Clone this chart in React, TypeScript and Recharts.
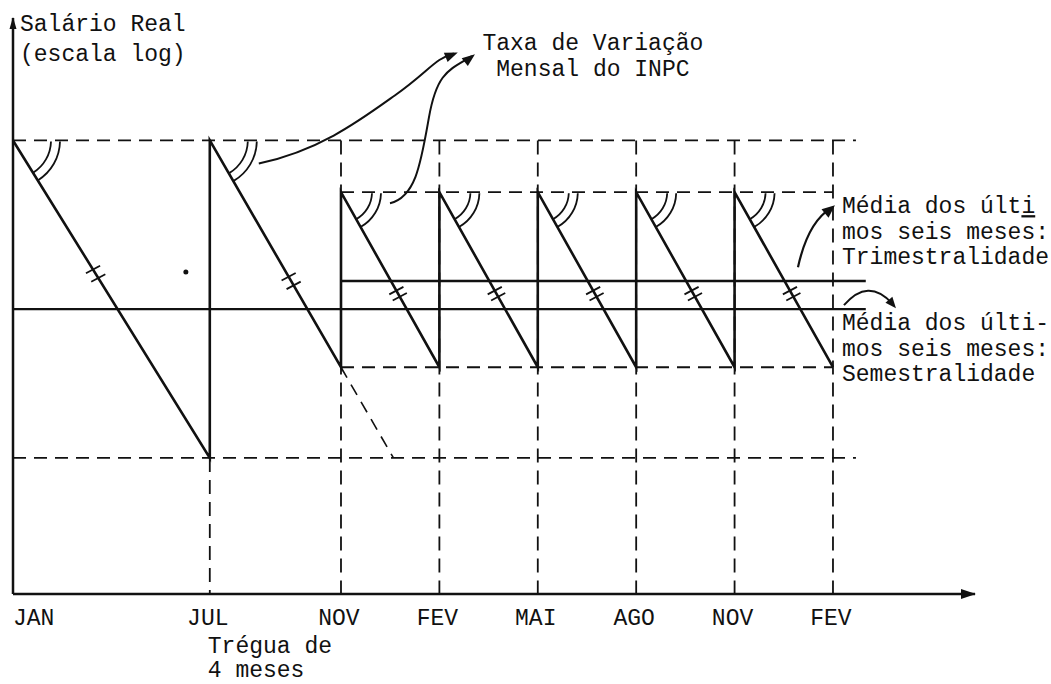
import React from "react";
import {
  ComposedChart,
  Line,
  XAxis,
  YAxis,
  ReferenceLine,
  ReferenceDot,
} from "recharts";

// months counted from the first JAN, wage on an arbitrary log scale
const tickMonths = [0, 6, 10, 13, 16, 19, 22, 25];
const tickLabels = ["JAN", "JUL", "NOV", "FEV", "MAI", "AGO", "NOV", "FEV"];

const sawMonths = [0, 6, 6, 10, 10, 13, 13, 16, 16, 19, 19, 22, 22, 25];
const sawWage = [100, 30, 100, 50, 88.6, 50, 88.6, 50, 88.6, 50, 88.6, 50, 88.6, 50];

// dashed guide levels (peak / trough heights)
const guideLevel = [100, 30, 88.6, 50];
const guideFrom = [0, 0, 10, 10];
const guideTo = [25.7, 25.7, 25, 25];

// solid averages: semestralidade, trimestralidade
const meanLevel = [62.8, 69];
const meanFrom = [0, 10];
const meanTo = [26, 26];

// dashed drop lines to the axis
const dropMonths = [6, 10, 13, 16, 19, 22, 25];
const dropTop = [30, 100, 100, 100, 100, 100, 100];

// where the "=" marks sit along each falling segment
const hashFrac = [0.42, 0.62, 0.58, 0.58, 0.58, 0.58, 0.58];

const W = 1051;
const H = 684;
const MARGIN = { top: 18, right: 76, bottom: 0, left: 13 };
const X_AXIS_H = 90;
const X_MAX = 29.33;
const Y_MAX = 127;
const PX_M = (W - MARGIN.left - MARGIN.right) / X_MAX;
const PX_V = (H - MARGIN.top - MARGIN.bottom - X_AXIS_H) / Y_MAX;

const INK = "#111";
const FONT = "'Liberation Mono', 'DejaVu Sans Mono', monospace";
const FS = 23;

const rows = sawMonths.map((m, i) => ({ m, w: sawWage[i] }));

const falling = sawMonths
  .slice(0, -1)
  .map((m, i) => ({ m0: m, w0: sawWage[i], m1: sawMonths[i + 1], w1: sawWage[i + 1] }))
  .filter((s) => s.w1 < s.w0);

const segAngle = (s: any) => Math.atan2((s.w0 - s.w1) * PX_V, (s.m1 - s.m0) * PX_M);

function arrowHead(x: number, y: number, deg: number, len = 13, half = 5) {
  const a = (deg * Math.PI) / 180;
  const ux = Math.cos(a), uy = Math.sin(a);
  const bx = x - ux * len, by = y - uy * len;
  return (
    <polygon
      points={`${x},${y} ${bx - uy * half},${by + ux * half} ${bx + uy * half},${by - ux * half}`}
      fill={INK}
    />
  );
}

const at = (draw: (cx: number, cy: number) => React.ReactNode) => (p: any) => (
  <g>{draw(p.cx, p.cy)}</g>
);

function textLines(x: number, y: number, lines: React.ReactNode[], lh = 25.5) {
  return (
    <text x={x} y={y} fontFamily={FONT} fontSize={FS} fill={INK}>
      {lines.map((l, i) => (
        <tspan key={i} x={x} dy={i === 0 ? 0 : lh}>
          {l}
        </tspan>
      ))}
    </text>
  );
}

const Tick = (props: any) => {
  const { x, y, payload } = props;
  const i = tickMonths.indexOf(payload.value);
  const first = i === 0;
  return (
    <g>
      <text
        x={first ? x : x - 2}
        y={y + 29}
        textAnchor={first ? "start" : "middle"}
        fontFamily={FONT}
        fontSize={FS}
        fill={INK}
      >
        {tickLabels[i]}
      </text>
      {tickLabels[i] === "JUL" && textLines(x - 2, y + 57, ["Trégua de", "4 meses"], 24)}
    </g>
  );
};

export default function App() {
  return (
    <div style={{ position: "absolute", left: 0, top: 0, background: "#fff" }}>
      <ComposedChart width={W} height={H} data={rows} margin={MARGIN}>
        <XAxis
          dataKey="m"
          type="number"
          domain={[0, X_MAX]}
          ticks={tickMonths}
          interval={0}
          height={X_AXIS_H}
          tickLine={false}
          tickSize={0}
          axisLine={{ stroke: INK, strokeWidth: 2.5 }}
          tick={<Tick />}
          allowDataOverflow
        />
        <YAxis type="number" domain={[0, Y_MAX]} hide allowDataOverflow />

        {/* y axis */}
        <ReferenceLine
          segment={[{ x: 0, y: 0 }, { x: 0, y: Y_MAX }]}
          stroke={INK}
          strokeWidth={2.5}
          ifOverflow="visible"
        />

        {guideLevel.map((v, i) => (
          <ReferenceLine
            key={"g" + i}
            segment={[{ x: guideFrom[i], y: v }, { x: guideTo[i], y: v }]}
            stroke={INK}
            strokeWidth={1.8}
            strokeDasharray="13 8"
            ifOverflow="visible"
          />
        ))}
        {dropMonths.map((m, i) => (
          <ReferenceLine
            key={"d" + i}
            segment={[{ x: m, y: dropTop[i] }, { x: m, y: 0 }]}
            stroke={INK}
            strokeWidth={1.8}
            strokeDasharray="14 8"
            ifOverflow="visible"
          />
        ))}
        {/* extrapolated fall without the November raise */}
        <ReferenceLine
          segment={[{ x: 10, y: 50 }, { x: 11.6, y: 30 }]}
          stroke={INK}
          strokeWidth={1.6}
          strokeDasharray="12 8"
          ifOverflow="visible"
        />
        {meanLevel.map((v, i) => (
          <ReferenceLine
            key={"mean" + i}
            segment={[{ x: meanFrom[i], y: v }, { x: meanTo[i], y: v }]}
            stroke={INK}
            strokeWidth={2.4}
            ifOverflow="visible"
          />
        ))}

        <Line
          dataKey="w"
          type="linear"
          stroke={INK}
          strokeWidth={2.6}
          dot={false}
          activeDot={false}
          isAnimationActive={false}
        />

        {/* angle arcs at each raise */}
        {falling.map((s, i) => {
          const a = segAngle(s);
          const radii = s.w0 >= 100 ? [38, 47] : [31, 40];
          return (
            <ReferenceDot
              key={"arc" + i}
              x={s.m0}
              y={s.w0}
              r={0}
              ifOverflow="visible"
              shape={at((cx, cy) =>
                radii.map((r, k) => (
                  <path
                    key={k}
                    d={`M${cx + r},${cy + 1} A${r},${r} 0 0 1 ${cx + r * Math.cos(a)},${cy + r * Math.sin(a)}`}
                    fill="none"
                    stroke={INK}
                    strokeWidth={1.8}
                  />
                ))
              )}
            />
          );
        })}

        {/* equal-slope marks */}
        {falling.map((s, i) => {
          const t = hashFrac[i];
          const a = segAngle(s);
          const gap = s.w0 >= 100 ? 5 : 3.5;
          const tilt = (-28 * Math.PI) / 180;
          return (
            <ReferenceDot
              key={"hash" + i}
              x={s.m0 + (s.m1 - s.m0) * t}
              y={s.w0 + (s.w1 - s.w0) * t}
              r={0}
              ifOverflow="visible"
              shape={at((cx, cy) =>
                [-gap, gap].map((d, k) => {
                  const px = cx + d * Math.cos(a);
                  const py = cy + d * Math.sin(a);
                  const hx = 8 * Math.cos(tilt), hy = 8 * Math.sin(tilt);
                  return (
                    <line
                      key={k}
                      x1={px - hx}
                      y1={py - hy}
                      x2={px + hx}
                      y2={py + hy}
                      stroke={INK}
                      strokeWidth={1.8}
                    />
                  );
                })
              )}
            />
          );
        })}

        {/* axis arrow heads */}
        <ReferenceDot
          x={X_MAX}
          y={0}
          r={0}
          ifOverflow="visible"
          shape={at((cx, cy) => arrowHead(cx + 1, cy, 0, 15, 5))}
        />
        <ReferenceDot
          x={0}
          y={Y_MAX}
          r={0}
          ifOverflow="visible"
          shape={at((cx, cy) => arrowHead(cx, cy - 1, -90, 12, 3.5))}
        />

        {/* axis title */}
        <ReferenceDot
          x={0}
          y={Y_MAX}
          r={0}
          ifOverflow="visible"
          shape={at((cx, cy) => textLines(cx + 7, cy + 13, ["Salário Real", "(escala log)"], 30))}
        />

        {/* Taxa de Variação Mensal do INPC */}
        <ReferenceDot
          x={6}
          y={100}
          r={0}
          ifOverflow="visible"
          shape={at((cx, cy) => (
            <g>
              <path
                d={`M${cx + 49},${cy + 23} C${cx + 110},${cy + 10} ${cx + 150},${cy - 20} ${cx + 185},${cy - 45} S${cx + 225},${cy - 82} ${cx + 244},${cy - 87}`}
                fill="none"
                stroke={INK}
                strokeWidth={2}
              />
              {arrowHead(cx + 248, cy - 88, -22)}
            </g>
          ))}
        />
        <ReferenceDot
          x={10}
          y={88.6}
          r={0}
          ifOverflow="visible"
          shape={at((cx, cy) => (
            <g>
              <path
                d={`M${cx + 49},${cy + 11} C${cx + 75},${cy + 5} ${cx + 80},${cy - 30} ${cx + 88},${cy - 75} S${cx + 108},${cy - 122} ${cx + 131},${cy - 136}`}
                fill="none"
                stroke={INK}
                strokeWidth={2}
              />
              {arrowHead(cx + 134, cy - 138, -38)}
            </g>
          ))}
        />
        <ReferenceDot
          x={17.68}
          y={121.5}
          r={0}
          ifOverflow="visible"
          shape={at((cx, cy) => (
            <text fontFamily={FONT} fontSize={FS} fill={INK} textAnchor="middle">
              <tspan x={cx} y={cy + 7}>Taxa de Variação</tspan>
              <tspan x={cx} y={cy + 33}>Mensal do INPC</tspan>
            </text>
          ))}
        />

        {/* Trimestralidade note */}
        <ReferenceDot
          x={25}
          y={88.6}
          r={0}
          ifOverflow="visible"
          shape={at((cx, cy) => (
            <g>
              <path
                d={`M${cx - 35},${cy + 75} Q${cx - 25},${cy + 30} ${cx - 2},${cy + 16}`}
                fill="none"
                stroke={INK}
                strokeWidth={2.2}
              />
              {arrowHead(cx + 2, cy + 13, -40, 13, 5.5)}
              {textLines(cx + 9, cy + 21, [
                <>Média dos últ<tspan textDecoration="underline">i</tspan></>,
                "mos seis meses:",
                "Trimestralidade",
              ])}
            </g>
          ))}
        />

        {/* Semestralidade note */}
        <ReferenceDot
          x={25}
          y={62.8}
          r={0}
          ifOverflow="visible"
          shape={at((cx, cy) => (
            <g>
              <path
                d={`M${cx + 11},${cy - 4} Q${cx + 35},${cy - 32} ${cx + 59},${cy - 6}`}
                fill="none"
                stroke={INK}
                strokeWidth={2}
              />
              {arrowHead(cx + 63, cy - 1, 50, 11, 4.5)}
              {textLines(cx + 9, cy + 21, ["Média dos últi-", "mos seis meses:", "Semestralidade"])}
            </g>
          ))}
        />

        {/* stray ink dot */}
        <ReferenceDot x={5.27} y={71} r={2.5} fill={INK} stroke="none" ifOverflow="visible" />
      </ComposedChart>
    </div>
  );
}
